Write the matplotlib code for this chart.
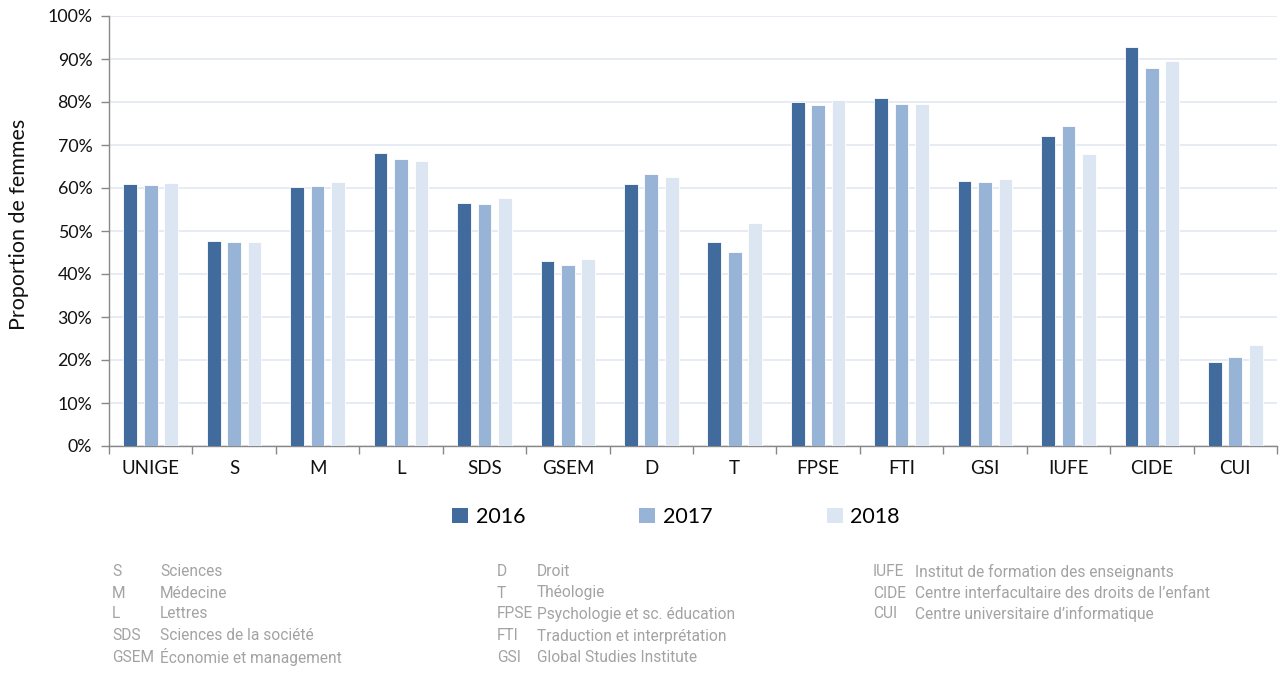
import matplotlib
matplotlib.use("Agg")
import matplotlib.pyplot as plt
import numpy as np
from matplotlib.patches import Patch
from matplotlib.ticker import PercentFormatter, FixedLocator

categories = ["UNIGE", "S", "M", "L", "SDS", "GSEM", "D", "T", "FPSE", "FTI", "GSI", "IUFE", "CIDE", "CUI"]
years = ["2016", "2017", "2018"]
v2016 = [61.0, 47.6, 60.2, 68.2, 56.5, 43.1, 60.9, 47.4, 80.1, 80.9, 61.6, 72.2, 92.9, 19.5]
v2017 = [60.7, 47.4, 60.5, 66.8, 56.3, 42.1, 63.2, 45.1, 79.3, 79.5, 61.5, 74.4, 87.8, 20.8]
v2018 = [61.2, 47.4, 61.4, 66.3, 57.6, 43.6, 62.6, 51.9, 80.5, 79.6, 62.0, 67.8, 89.6, 23.4]
series = [v2016, v2017, v2018]
colors = ["#416B9C", "#97B4D7", "#DCE6F2"]

notes_col1 = [("S", "Sciences"), ("M", "Médecine"), ("L", "Lettres"),
              ("SDS", "Sciences de la société"), ("GSEM", "Économie et management")]
notes_col2 = [("D", "Droit"), ("T", "Théologie"), ("FPSE", "Psychologie et sc. éducation"),
              ("FTI", "Traduction et interprétation"), ("GSI", "Global Studies Institute")]
notes_col3 = [("IUFE", "Institut de formation des enseignants"),
              ("CIDE", "Centre interfacultaire des droits de l\u2019enfant"),
              ("CUI", "Centre universitaire d\u2019informatique")]

plt.rcParams['font.family'] = ['Lato', 'DejaVu Sans']

W, H = 1279, 678
fig = plt.figure(figsize=(W / 100, H / 100), dpi=100)
ax = fig.add_axes([109 / W, 1 - 446 / H, (1277 - 109) / W, (446 - 16) / H])

x = np.arange(len(categories))
bw = 0.165
pitch = 0.245
for i, (vals, col) in enumerate(zip(series, colors)):
    ax.bar(x + (i - 1) * pitch, vals, width=bw, color=col, edgecolor="white",
           linewidth=0.6, zorder=3, label=years[i])

ax.set_xlim(-0.5, len(categories) - 0.5)
ax.set_ylim(0, 100)
ax.yaxis.set_major_locator(FixedLocator(np.arange(0, 101, 10)))
ax.yaxis.set_major_formatter(PercentFormatter(decimals=0))
ax.grid(axis="y", color="#E3E9F2", linewidth=1.2, zorder=0)
ax.set_xticks(x)
ax.set_xticklabels(categories)
ax.set_xticks(np.arange(-0.5, len(categories) + 0.5, 1), minor=True)
ax.tick_params(axis="x", which="major", length=0, pad=10, labelsize=13.5, colors="#111111")
ax.tick_params(axis="x", which="minor", length=6, color="#888888", width=1)
ax.tick_params(axis="y", length=6, color="#888888", width=1, labelsize=12.8, colors="#111111", pad=6)
for s in ["top", "right"]:
    ax.spines[s].set_visible(False)
for s in ["left", "bottom"]:
    ax.spines[s].set_color("#888888")
    ax.spines[s].set_linewidth(1)
fig.text(19 / W, 1 - 224 / H, "Proportion de femmes", rotation=90, ha="center", va="center",
         fontsize=15.5, color="#111111")

handles = [Patch(facecolor=c, edgecolor="none", label=y) for c, y in zip(colors, years)]
fig.legend(handles=handles, loc="center", bbox_to_anchor=(676 / W, 1 - 517 / H), ncol=3,
           frameon=False, fontsize=15.5, handlelength=0.75, handleheight=0.75,
           handletextpad=0.35, columnspacing=5.3)

gray = "#A3A3A3"
nfont = ['Roboto', 'DejaVu Sans']
rows_y = [572, 593, 614, 636, 657]
cols = [(112, 160, notes_col1), (497, 537, notes_col2), (873, 915, notes_col3)]
for xa, xt, notes in cols:
    for (ab, txt), yy in zip(notes, rows_y):
        fig.text(xa / W, 1 - yy / H, ab, ha="left", va="center", fontsize=11.2, color=gray, family=nfont)
        fig.text(xt / W, 1 - yy / H, txt, ha="left", va="center", fontsize=11.2, color=gray, family=nfont)

fig.savefig("out.png", dpi=100)
